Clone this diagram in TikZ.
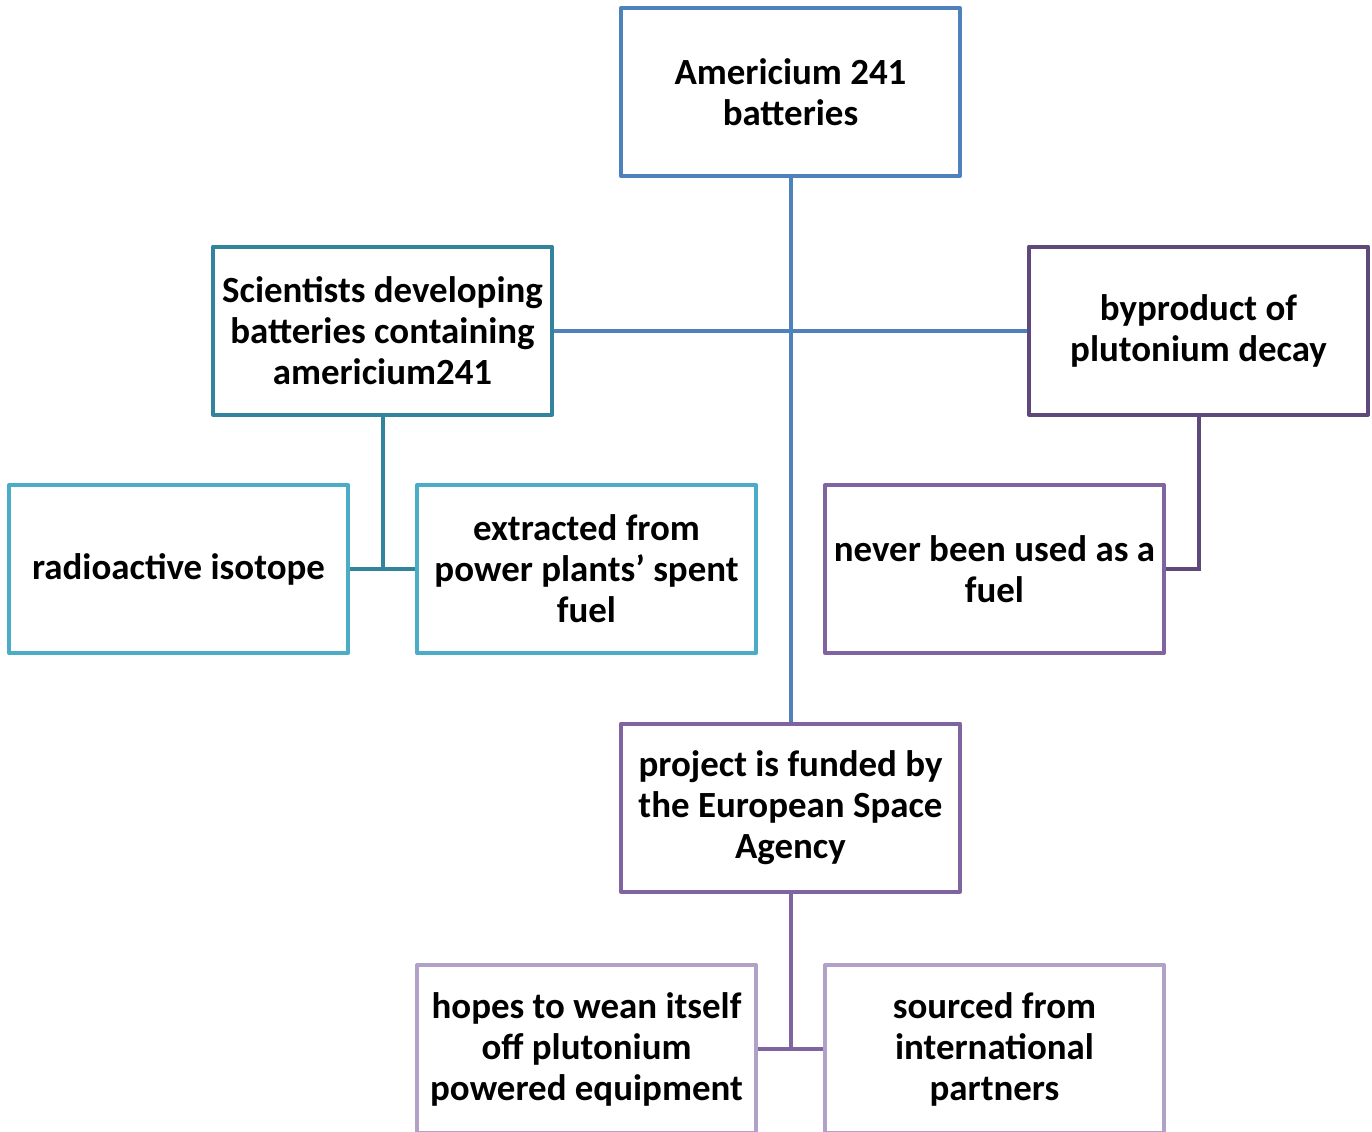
\documentclass[tikz,border=0pt]{standalone}
\usepackage{fontspec}
\setmainfont{Carlito}
\usetikzlibrary{calc}

\definecolor{amblue}{HTML}{4F81BD}
\definecolor{darkteal}{HTML}{31849B}
\definecolor{lightteal}{HTML}{4BACC6}
\definecolor{darkpurple}{HTML}{5F497A}
\definecolor{midpurple}{HTML}{8064A2}
\definecolor{palepurple}{HTML}{B2A1C7}

\tikzset{
  box/.style={draw=#1, line width=0.08cm, line join=round, fill=white,
    minimum width=6.78cm, minimum height=3.36cm,
    align=center, inner sep=0pt, font=\bfseries\fontsize{21}{23.3}\selectfont},
  link/.style={draw=#1, line width=0.08cm}
}

\begin{document}
\begin{tikzpicture}

    % Page frame (same proportions as the reference)
    \useasboundingbox (0,0) rectangle (27.44,-22.62);

    % Column and row spacing of the chart grid
    \def\dx{4.08}
    \def\dy{4.77}
    \def\xo{3.57}
    \def\yo{-1.84}

    % Grid positions
    \coordinate (T) at ({\xo+3*\dx},{\yo});
    \coordinate (S) at ({\xo+1*\dx},{\yo-\dy});
    \coordinate (B) at ({\xo+5*\dx},{\yo-\dy});
    \coordinate (R) at ({\xo},{\yo-2*\dy});
    \coordinate (E) at ({\xo+2*\dx},{\yo-2*\dy});
    \coordinate (N) at ({\xo+4*\dx},{\yo-2*\dy});
    \coordinate (P) at ({\xo+3*\dx},{\yo-3*\dy});
    \coordinate (H) at ({\xo+2*\dx},{\yo-4*\dy-0.06});
    \coordinate (F) at ({\xo+4*\dx},{\yo-4*\dy-0.06});

    % Boxes
    \node[box=amblue] (top) at (T) {Americium 241\\batteries};
    \node[box=darkteal] (sci) at (S) {Scientists developing\\batteries containing\\americium241};
    \node[box=darkpurple] (byp) at (B) {byproduct of\\plutonium decay};
    \node[box=lightteal] (rad) at (R) {radioactive isotope};
    \node[box=lightteal] (ext) at (E) {extracted from\\power plants’ spent\\fuel};
    \node[box=midpurple] (nev) at (N) {never been used as a\\fuel};
    \node[box=midpurple] (proj) at (P) {project is funded by\\the European Space\\Agency};
    \node[box=palepurple] (hope) at (H) {hopes to wean itself\\off plutonium\\powered equipment};
    \node[box=palepurple] (src) at (F) {sourced from\\international\\partners};

    % Main trunk and branch
    \draw[link=amblue] (top.south) -- (proj.north);
    \draw[link=amblue] (sci.east) -- (byp.west);

    % Scientists branch
    \draw[link=darkteal] (sci.south) |- (rad.east);
    \draw[link=darkteal] (sci.south) |- (ext.west);

    % Byproduct branch
    \draw[link=darkpurple] (byp.south) |- (nev.east);

    % Project branch
    \draw[link=midpurple] (proj.south) |- (hope.east);
    \draw[link=midpurple] (proj.south) |- (src.west);

\end{tikzpicture}
\end{document}
